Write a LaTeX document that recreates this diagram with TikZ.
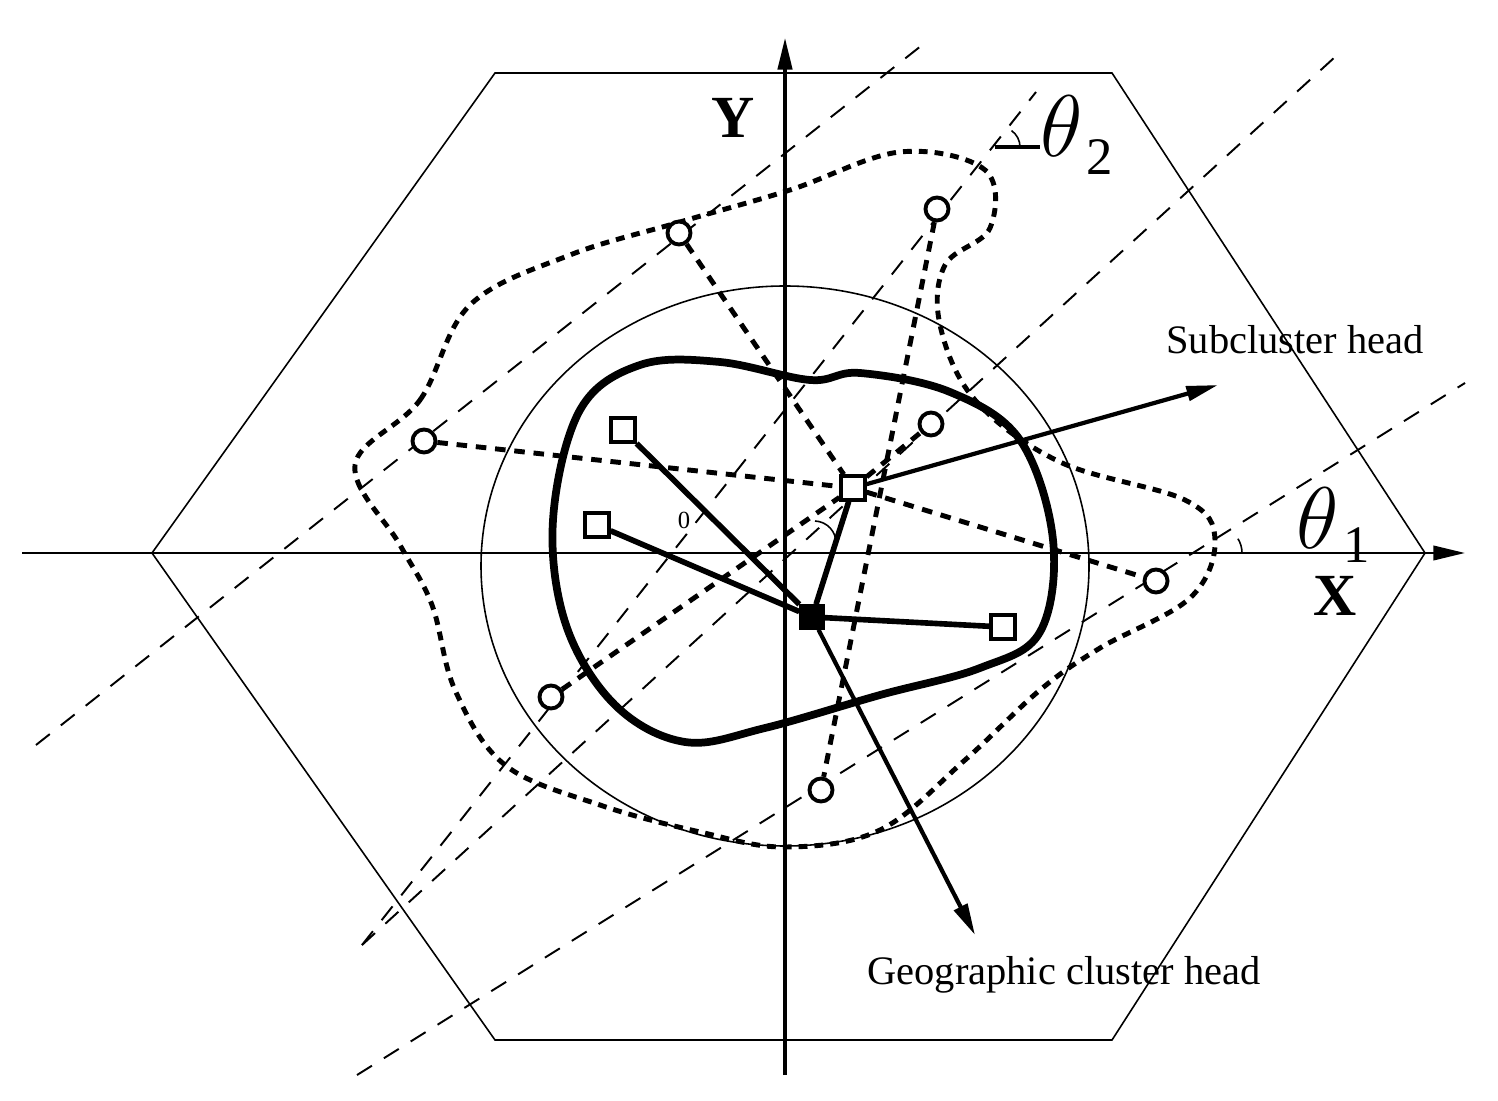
\documentclass[tikz,border=0pt]{standalone}
\usepackage{fontspec}
\setmainfont{Liberation Serif}
\usetikzlibrary{arrows.meta,shapes,backgrounds}
\begin{document}
\begin{tikzpicture}[
    x=0.01cm, y=-0.01cm,
    >={Triangle[angle=40:6pt,length=9pt]},
    thinline/.style={line width=0.45pt},
    guide/.style={line width=0.55pt, dash pattern=on 5pt off 4pt},
    link/.style={line width=1.4pt, dash pattern=on 3pt off 2.5pt},
    border/.style={line width=1.4pt, dash pattern=on 2.5pt off 2pt},
    solidlink/.style={line width=1.6pt},
    sub/.style={draw, fill=white, line width=0.9pt, minimum size=0.24cm, inner sep=0pt},
    geo/.style={draw, fill=black, minimum size=0.24cm, inner sep=0pt},
    member/.style={draw, circle, fill=white, line width=1.1pt, minimum size=0.23cm, inner sep=0pt},
    lbl/.style={font=\fontsize{11.5}{13}\selectfont}
  ]
  \useasboundingbox (0,0) rectangle (1498,1101);
  % hexagon and outer circle
  \draw[thinline] (152,553) -- (495,73) -- (1112,73) -- (1425,553) -- (1112,1040) -- (495,1040) -- cycle;
  \draw[thinline] (785,566) ellipse [x radius=304, y radius=280];
  % axes
  \coordinate (xs) at (22,553);
  \coordinate (xe) at (1465,553);
  \coordinate (ys) at (785,1075);
  \coordinate (ye) at (785,38);
  \draw[line width=0.7pt,->] (xs) -- (xe);
  \draw[line width=0.9pt,->] (ys) -- (ye);
  % guide lines
  \coordinate (a1) at (36,745);   \coordinate (a2) at (926,42);
  \coordinate (b1) at (362,945);  \coordinate (b2) at (1036,92);
  \coordinate (c1) at (362,945);  \coordinate (c2) at (1335,57);
  \coordinate (d1) at (357,1075); \coordinate (d2) at (1465,383);
  \draw[guide] (a1) -- (a2);
  \draw[guide] (b1) -- (b2);
  \draw[guide] (c1) -- (c2);
  \draw[guide] (d1) -- (d2);
  % regions
  \draw[border] plot[smooth cycle, tension=0.6] coordinates {
    (355,465) (420,400) (470,305) (570,255) (680,222) (790,190) (900,152)
    (985,170) (990,228) (945,265) (940,325) (975,400) (1060,462) (1185,500)
    (1215,540) (1190,598) (1100,648) (1040,690) (965,760) (880,830) (785,847)
    (700,832) (600,805) (505,765) (455,690) (432,605) (400,545)};
  \draw[line width=2.2pt] plot[smooth cycle, tension=0.6] coordinates {
    (553,520) (580,410) (640,365) (720,362) (810,380) (860,373) (950,392)
    (1020,440) (1053,540) (1040,632) (980,668) (880,695) (765,728) (685,742)
    (615,705) (566,625)};
  % nodes
  \node[geo] (G) at (812,617) {};
  \node[sub] (S1) at (853,488) {};
  \node[sub] (S2) at (623,430) {};
  \node[sub] (S3) at (597,525) {};
  \node[sub] (S4) at (1003,627) {};
  \node[member] (M1) at (679,233) {};
  \node[member] (M2) at (937,209) {};
  \node[member] (M3) at (424,441) {};
  \node[member] (M4) at (931,424) {};
  \node[member] (M5) at (1156,581) {};
  \node[member] (M6) at (551,697) {};
  \node[member] (M7) at (821,790) {};
  % member links
  \draw[link] (M1) -- (S1);
  \draw[link] (M3) -- (S1);
  \draw[link] (S1) -- (M5);
  \draw[link] (M6) -- (S1);
  \draw[link] (S1) -- (M4);
  \draw[link] (M2) -- (M7);
  % head links
  \draw[solidlink] (G) -- (S1);
  \draw[solidlink] (G) -- (S2);
  \draw[solidlink] (G) -- (S3);
  \draw[solidlink] (G) -- (S4);
  \coordinate (subend) at (1218,385);
  \coordinate (geoend) at (975,935);
  \draw[line width=1.2pt,->] (S1) -- (subend);
  \draw[line width=1.2pt,->] (G) -- (geoend);
  % angles
  \coordinate (t2a) at (995,147);
  \coordinate (t2b) at (1040,147);
  \draw[line width=1pt] (t2a) -- (t2b);
  \draw[thinline] (1020,147) arc[start angle=0, end angle=-55, radius=20];
  \draw[thinline] (1242,553) arc[start angle=0, end angle=-32, radius=27];
  \draw[thinline] (815,521) to[bend left=45] (836,544);
  % labels
  \node[lbl] (lsub) at (1295,340) {Subcluster head};
  \node[lbl] (lgeo) at (1064,975) {Geographic cluster head};
  \node[font=\fontsize{17}{19}\selectfont\bfseries] (ly) at (733,118) {Y};
  \node[font=\fontsize{17}{19}\selectfont\bfseries] (lx) at (1335,596) {X};
  \node[font=\fontsize{25}{27}\selectfont\itshape] (th2) at (1062,126) {$\theta$};
  \node[font=\fontsize{15}{17}\selectfont] (th2s) at (1100,157) {2};
  \node[font=\fontsize{25}{27}\selectfont\itshape] (th1) at (1318,518) {$\theta$};
  \node[font=\fontsize{15}{17}\selectfont] (th1s) at (1357,545) {1};
  \node[font=\fontsize{7}{8}\selectfont] (lo) at (684,520) {0};
\end{tikzpicture}
\end{document}
